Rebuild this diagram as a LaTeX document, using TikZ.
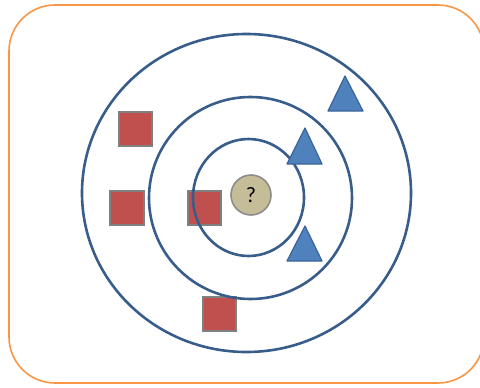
\documentclass[tikz,border=0pt]{standalone}
\usepackage{fontspec}
\setmainfont{Carlito}
\usepackage{xcolor}
\usepackage{tikz}
\usetikzlibrary{positioning}

\definecolor{frameorange}{HTML}{F79646}
\definecolor{ringblue}{HTML}{385D8A}
\definecolor{sqred}{HTML}{C0504D}
\definecolor{sqgray}{HTML}{808080}
\definecolor{triblue}{HTML}{4F81BD}
\definecolor{triborder}{HTML}{3A649A}
\definecolor{qtan}{HTML}{C4BD97}
\definecolor{qgray}{HTML}{8C8C8C}

\begin{document}
\begin{tikzpicture}[
        x=1pt, y=-1pt,
        frame/.style={draw=frameorange, line width=1.6pt, rounded corners=46pt},
        ring/.style={draw=ringblue, line width=2.6pt},
        sq/.style={rectangle, draw=sqgray, fill=sqred, line width=1.6pt, minimum size=33.5pt, inner sep=0pt},
        tri/.style={draw=triborder, fill=triblue, line width=1.2pt, line join=round},
        query/.style={circle, draw=qgray, fill=qtan, line width=1.6pt, minimum size=40pt, inner sep=0pt, font=\fontsize{22}{22}\selectfont}
    ]
        \useasboundingbox (0,0) rectangle (480,388);
        \begin{scope}
            \clip (0,0) rectangle (480,388);
            \draw[frame] (9,5) rectangle (484,383);
        \end{scope}

        % red squares (under the rings)
        \node[sq] (sqA) at (135.5,129) {};
        \node[sq] (sqB) at (127,208) {};
        \node[sq] (sqC) at (204.5,208) {};
        \node[sq] (sqD) at (219.5,314) {};

        % rings
        \draw[ring] (246.5,193) ellipse [x radius=164.5, y radius=159];
        \draw[ring] (250.5,198) ellipse [x radius=101.5, y radius=101];
        \draw[ring] (248.5,197.5) ellipse [x radius=55.5, y radius=58.5];

        % blue triangles
        \draw[tri] (345,76) -- (363,111) -- (328,111) -- cycle;
        \draw[tri] (305,128) -- (322,164) -- (287,164) -- cycle;
        \draw[tri] (305,226) -- (322,261) -- (287,261) -- cycle;

        % query point
        \node[query] (q) at (251,195) {?};
    \end{tikzpicture}
\end{document}
